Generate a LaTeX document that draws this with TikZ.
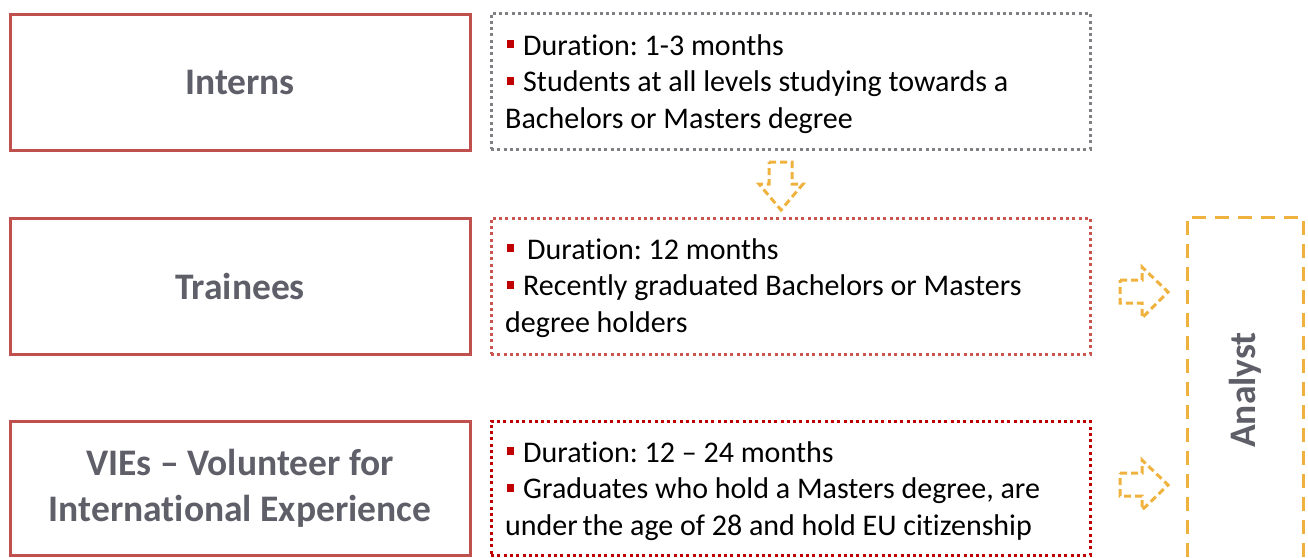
\documentclass[tikz,border=0pt]{standalone}
\usepackage{fontspec}
\setmainfont[Ligatures={NoCommon,NoRequired,NoContextual}]{Carlito}
\frenchspacing
\definecolor{boxred}{RGB}{192,80,77}
\definecolor{dotgray}{RGB}{128,128,132}
\definecolor{dotsalmon}{RGB}{200,85,80}
\definecolor{dotred}{RGB}{192,0,0}
\definecolor{bulred}{RGB}{192,0,0}
\definecolor{arrorange}{RGB}{240,178,62}
\definecolor{titlegray}{RGB}{95,95,105}
\newcommand{\bul}{{\color{bulred}\rule[7pt]{7pt}{8pt}}}
\begin{document}
\begin{tikzpicture}[x=1pt,y=-1pt,
  leftbox/.style={draw=boxred, line width=3pt, minimum width=460pt, minimum height=136pt,
    inner sep=0pt, align=center, text=titlegray, font=\fontsize{37.5}{46}\selectfont\bfseries},
  dotbox/.style={line width=3pt, dash pattern=on 3pt off 3.3pt, minimum width=599pt,
    minimum height=136pt, inner sep=0pt},
  linetext/.style={anchor=base west, inner sep=0pt, font=\fontsize{30}{36.5}\selectfont, text=black},
  dasharrow/.style={draw=arrorange, line width=3pt, dash pattern=on 7pt off 4pt, line join=miter},
  analystbox/.style={draw=arrorange, line width=3pt, dash pattern=on 14pt off 9pt}]
\useasboundingbox (0,0) rectangle (1308,557);
\clip (0,0) rectangle (1308,557);

% left boxes
\node[leftbox] (interns) at (240,82) {Interns};
\node[leftbox] (trainees) at (240,286) {Trainees};
\node[leftbox, minimum height=134pt] (vies) at (240,488) {VIEs -- Volunteer for\\International Experience};

% dotted boxes
\node[dotbox, draw=dotgray] (dint) at (790.5,81) {};
\node[dotbox, draw=dotsalmon] (dtrn) at (790.5,286) {};
\node[dotbox, draw=dotred, minimum height=134pt] (dvie) at (790.5,488) {};

% text lines
\node[linetext] (i1) at (507,55) {\bul\hspace{9pt}Duration: 1-3 months};
\node[linetext] (i2) at (507,91.5) {\bul\hspace{9pt}Students at all levels studying towards a};
\node[linetext] (i3) at (505,128) {Bachelors or Masters degree};

\node[linetext] (t1) at (507,259) {\bul\hspace{13pt}Duration: 12 months};
\node[linetext] (t2) at (507,295.5) {\bul\hspace{9pt}Recently graduated Bachelors or Masters};
\node[linetext] (t3) at (505,332) {degree holders};

\node[linetext] (v1) at (507,462) {\bul\hspace{9pt}Duration: 12 -- 24 months};
\node[linetext] (v2) at (507,498.5) {\bul\hspace{9pt}Graduates who hold a Masters degree, are};
\node[linetext] (v3) at (505,535) {under\hspace{-2pt} the age of 28 and hold EU citizenship};

% arrows
\draw[dasharrow] (769,162) -- (792,162) -- (792,184) -- (803,184) -- (781,210) -- (759,184) -- (769,184) -- cycle;
\draw[dasharrow] (1120,280) -- (1142,280) -- (1142,267) -- (1168,292) -- (1142,318) -- (1142,303) -- (1120,303) -- cycle;
\draw[dasharrow] (1120,473) -- (1142,473) -- (1142,460) -- (1168,485) -- (1142,510) -- (1142,496) -- (1120,496) -- cycle;

% analyst
\draw[analystbox] (1187,580) -- (1187,217) -- (1303,217) -- (1303,580);
\node[rotate=90, inner sep=0pt, text=titlegray, font=\fontsize{37.5}{46}\selectfont\bfseries] (analyst) at (1245,390) {Analyst};
\end{tikzpicture}
\end{document}
